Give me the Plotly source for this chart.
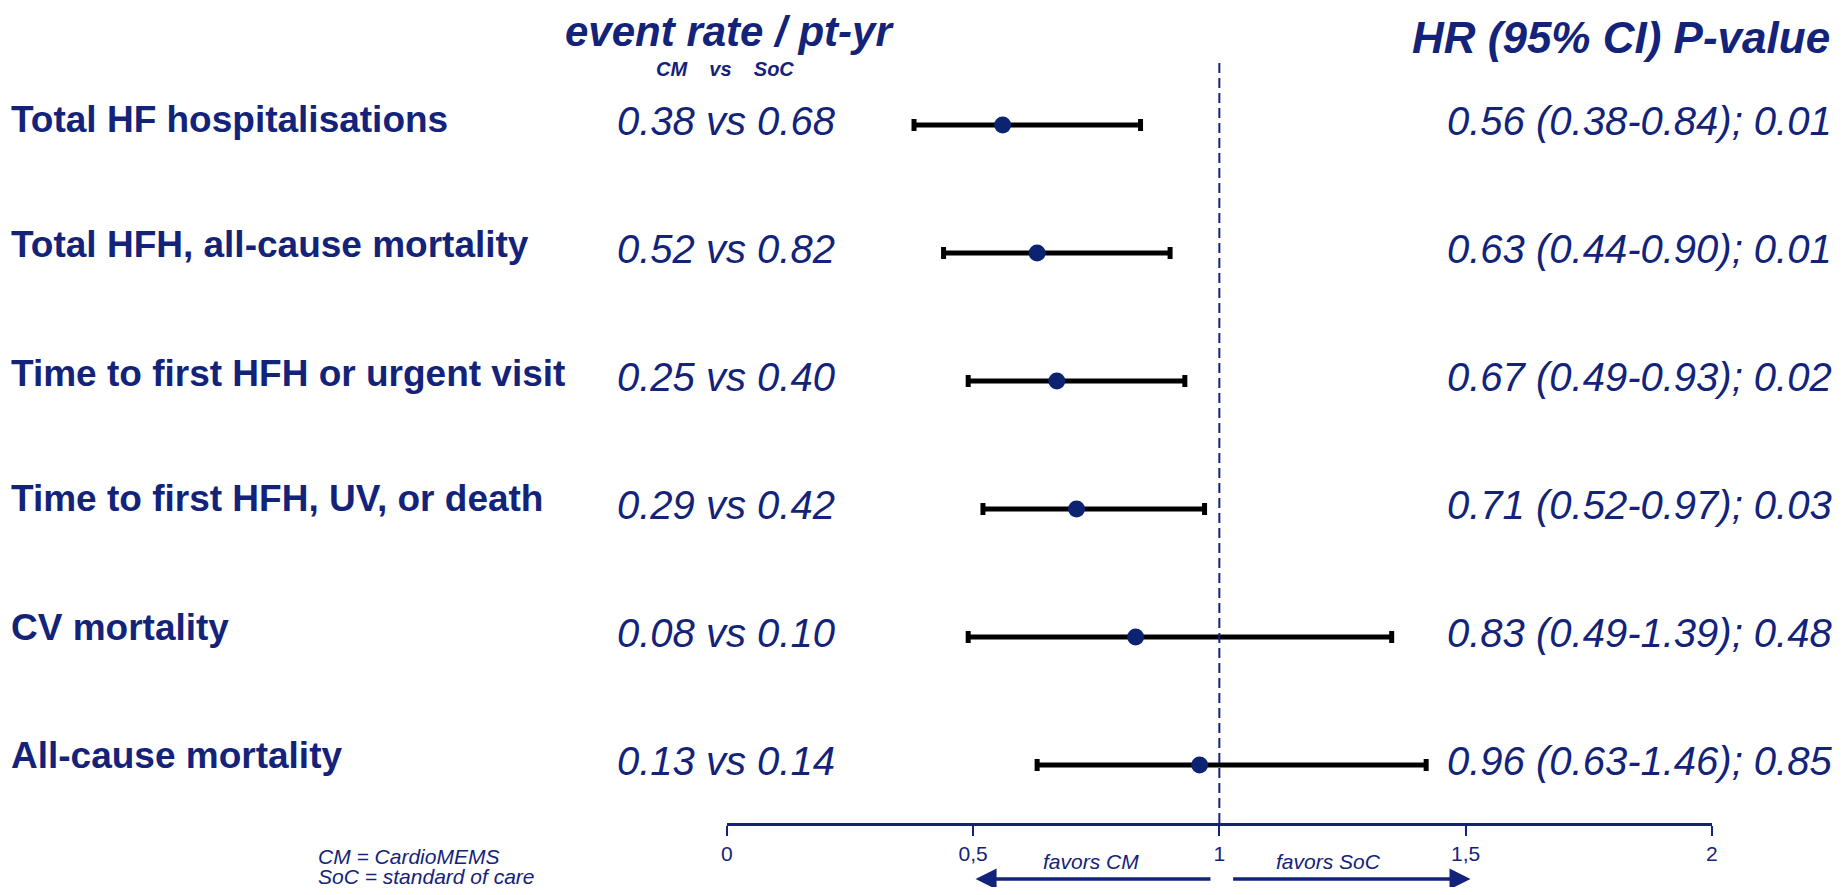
import plotly.graph_objects as go

OFF = 8            # default page margin of the written html
W, H = 1844 - 2 * OFF, 895 - 2 * OFF

outcomes = [
    "Total HF hospitalisations",
    "Total HFH, all-cause mortality",
    "Time to first HFH or urgent visit",
    "Time to first HFH, UV, or death",
    "CV mortality",
    "All-cause mortality",
]
event_rates = [
    "0.38 vs 0.68",
    "0.52 vs 0.82",
    "0.25 vs 0.40",
    "0.29 vs 0.42",
    "0.08 vs 0.10",
    "0.13 vs 0.14",
]
hr_labels = [
    "0.56 (0.38-0.84); 0.01",
    "0.63 (0.44-0.90); 0.01",
    "0.67 (0.49-0.93); 0.02",
    "0.71 (0.52-0.97); 0.03",
    "0.83 (0.49-1.39); 0.48",
    "0.96 (0.63-1.46); 0.85",
]
hr = [0.56, 0.63, 0.67, 0.71, 0.83, 0.96]
ci_low = [0.38, 0.44, 0.49, 0.52, 0.49, 0.63]
ci_high = [0.84, 0.90, 0.93, 0.97, 1.35, 1.42]   # as drawn in the picture
tick_vals = [0, 0.5, 1, 1.5, 2]
tick_text = ["0", "0,5", "1", "1,5", "2"]
footnotes = ["CM = CardioMEMS", "SoC = standard of care"]
rows = list(range(len(outcomes)))

NAVY = "#14237a"
MARK = "#0c2372"
FONT = "Liberation Sans, Arial, sans-serif"
LABEL_SHIFT = [5, 8, 7, 10, 10, 10]   # small upward offsets of the row labels (px)


def px(x):
    return (x - OFF) / W


def py(y):
    return 1 - (y - OFF) / H


fig = go.Figure()
fig.add_trace(go.Scatter(
    x=hr, y=rows, mode="markers",
    marker=dict(size=17, color=MARK),
    error_x=dict(type="data", symmetric=False,
                 array=[h - v for h, v in zip(ci_high, hr)],
                 arrayminus=[v - l for v, l in zip(hr, ci_low)],
                 color="black", thickness=5, width=6),
    cliponaxis=False, showlegend=False, hoverinfo="skip",
))

ann = []
for i, (o, r, t) in enumerate(zip(outcomes, event_rates, hr_labels)):
    ann.append(dict(x=px(3), xref="paper", y=i, yref="y", yshift=LABEL_SHIFT[i],
                    text="<b>%s</b>" % o, xanchor="left", yanchor="middle",
                    showarrow=False, font=dict(size=37, color=NAVY, family=FONT)))
    ann.append(dict(x=px(725), xref="paper", y=i, yref="y", yshift=4,
                    text="<i>%s</i>" % r, xanchor="center", yanchor="middle",
                    showarrow=False, font=dict(size=40, color=NAVY, family=FONT)))
    ann.append(dict(x=px(1840), xref="paper", y=i, yref="y", yshift=4,
                    text="<i>%s</i>" % t, xanchor="right", yanchor="middle",
                    showarrow=False, font=dict(size=40, color=NAVY, family=FONT)))

# headers
ann.append(dict(x=px(728), xref="paper", y=py(32), yref="paper", borderpad=0,
                text="<b><i>event rate / pt-yr</i></b>", xanchor="center", yanchor="middle",
                showarrow=False, font=dict(size=42, color=NAVY, family=FONT)))
ann.append(dict(x=px(724), xref="paper", y=py(69), yref="paper",
                text="<b><i>CM\u00a0\u00a0\u00a0\u00a0vs\u00a0\u00a0\u00a0\u00a0SoC</i></b>",
                xanchor="center", yanchor="middle",
                showarrow=False, font=dict(size=20, color=NAVY, family=FONT)))
ann.append(dict(x=px(1838), xref="paper", y=py(38), yref="paper",
                text="<b><i>HR (95% CI) P-value</i></b>", xanchor="right", yanchor="middle",
                showarrow=False, font=dict(size=44, color=NAVY, family=FONT)))

# footnote (two lines)
for line, yy in zip(footnotes, [856, 876]):
    ann.append(dict(x=px(312), xref="paper", y=py(yy), yref="paper",
                    text="<i>%s</i>" % line, xanchor="left", yanchor="middle",
                    showarrow=False, font=dict(size=21, color=NAVY, family=FONT)))

# favors arrows
ann.append(dict(x=0.505, y=py(879), xref="x", yref="paper", ax=0.985, ay=0, axref="x", ayref="pixel",
                text="", showarrow=True, arrowhead=2, arrowsize=1.2, arrowwidth=3.5, arrowcolor=NAVY))
ann.append(dict(x=1.51, y=py(879), xref="x", yref="paper", ax=1.025, ay=0, axref="x", ayref="pixel",
                text="", showarrow=True, arrowhead=2, arrowsize=1.2, arrowwidth=3.5, arrowcolor=NAVY))
ann.append(dict(x=0.74, xref="x", y=py(861), yref="paper", text="<i>favors CM</i>",
                xanchor="center", yanchor="middle", showarrow=False,
                font=dict(size=21, color=NAVY, family=FONT)))
ann.append(dict(x=1.222, xref="x", y=py(861), yref="paper", text="<i>favors SoC</i>",
                xanchor="center", yanchor="middle", showarrow=False,
                font=dict(size=21, color=NAVY, family=FONT)))

y_bot, y_top = py(823), py(63)

fig.update_layout(
    width=W, height=H, autosize=False,
    margin=dict(l=0, r=0, t=0, b=0),
    paper_bgcolor="white", plot_bgcolor="white",
    font=dict(family=FONT, color=NAVY),
    xaxis=dict(domain=[px(725.6), px(1717)], range=[0, 2], tickvals=tick_vals, ticktext=tick_text,
               showline=True, linewidth=3, linecolor=NAVY, ticks="outside", ticklen=10,
               tickwidth=2, tickcolor=NAVY, showgrid=False, zeroline=False,
               tickfont=dict(size=21, color=NAVY, family=FONT), ticklabelstandoff=0,
               fixedrange=True),
    yaxis=dict(domain=[y_bot, y_top], range=[5.453, -0.484], visible=False, fixedrange=True),
    shapes=[dict(type="line", xref="x", yref="paper", x0=1, x1=1, y0=y_bot, y1=y_top,
                 line=dict(color=NAVY, width=2, dash="10px,5px"))],
    annotations=ann,
    showlegend=False,
)

fig.write_html("out.html")
